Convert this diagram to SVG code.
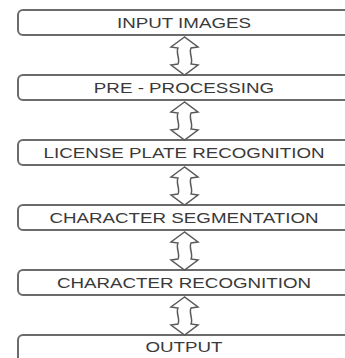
<svg xmlns="http://www.w3.org/2000/svg" width="345" height="358" viewBox="0 0 345 358">
<style>
.box{fill:#fff;stroke:#6b6b6b;stroke-width:2}
.lbl{font-family:"Liberation Sans",Arial,sans-serif;font-size:14px;fill:#3a3a3a;text-anchor:middle}
.arr{fill:#fff;stroke:#5a5a5a;stroke-width:1.5;stroke-linejoin:miter}
</style>
<defs>
<path id="dbl" class="arr" d="M0,0 L-13.5,10 L-6.5,11 C-9,16 -4,22 -6.5,27 L-13.5,28 L0,38 L13.5,28 L6.5,27 C9,22 4,16 6.5,11 L13.5,10 Z"/>
</defs>
<rect width="345" height="358" fill="#fff"/>
<g id="n1"><rect class="box" x="18" y="10" width="345" height="25" rx="5"/><text class="lbl" transform="translate(184,27.5) scale(1.34,1)">INPUT IMAGES</text></g>
<g id="n2"><rect class="box" x="18" y="75" width="345" height="25" rx="5"/><text class="lbl" transform="translate(184,92.5) scale(1.34,1)">PRE - PROCESSING</text></g>
<g id="n3"><rect class="box" x="18" y="140" width="345" height="25" rx="5"/><text class="lbl" transform="translate(184,157.5) scale(1.34,1)">LICENSE PLATE RECOGNITION</text></g>
<g id="n4"><rect class="box" x="18" y="205" width="345" height="25" rx="5"/><text class="lbl" transform="translate(184,222.5) scale(1.34,1)">CHARACTER SEGMENTATION</text></g>
<g id="n5"><rect class="box" x="18" y="270" width="345" height="25" rx="5"/><text class="lbl" transform="translate(184,287.5) scale(1.34,1)">CHARACTER RECOGNITION</text></g>
<g id="n6"><rect class="box" x="18" y="335" width="345" height="30" rx="5"/><text class="lbl" transform="translate(184,352) scale(1.34,1)">OUTPUT</text></g>
<g id="connectors">
<use href="#dbl" x="184.5" y="37"/>
<use href="#dbl" x="184.5" y="102"/>
<use href="#dbl" x="184.5" y="167"/>
<use href="#dbl" x="184.5" y="232"/>
<use href="#dbl" x="184.5" y="297"/>
</g>
</svg>
